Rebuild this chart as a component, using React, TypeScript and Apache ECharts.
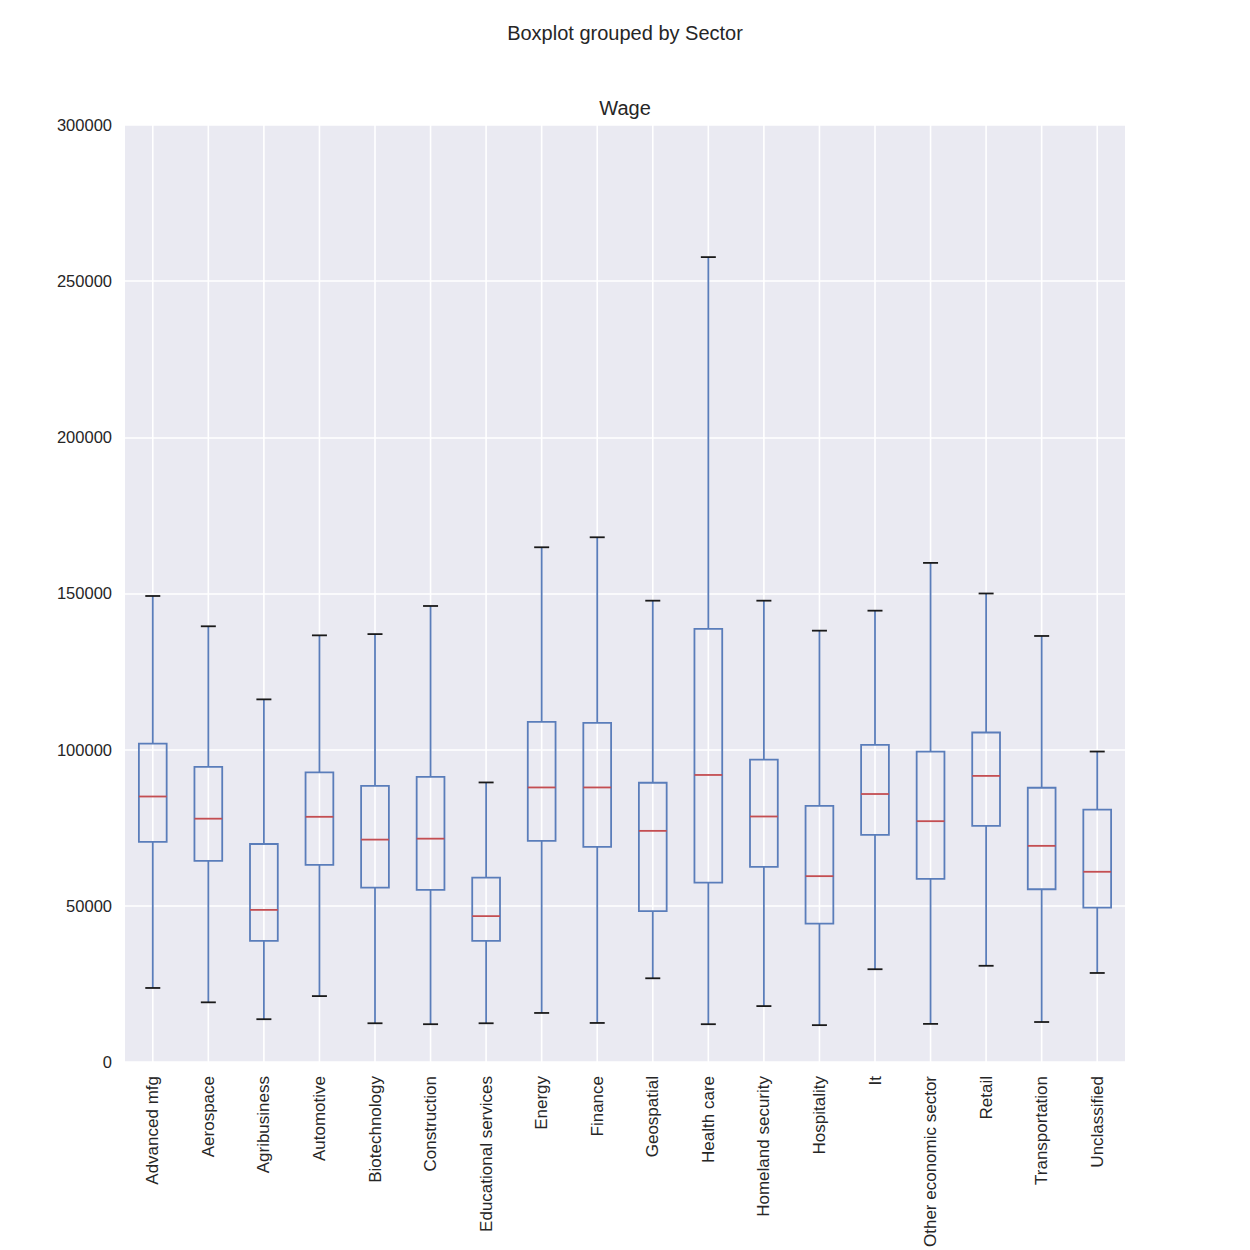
import React, { useEffect, useRef } from "react";
import * as echarts from "echarts";

// Wage distribution per sector (whisker ends, quartiles, median)
const sectors = [
  "Advanced mfg",
  "Aerospace",
  "Agribusiness",
  "Automotive",
  "Biotechnology",
  "Construction",
  "Educational services",
  "Energy",
  "Finance",
  "Geospatial",
  "Health care",
  "Homeland security",
  "Hospitality",
  "It",
  "Other economic sector",
  "Retail",
  "Transportation",
  "Unclassified",
];
const lowWhisker = [23700, 19100, 13700, 21100, 12400, 12100, 12400, 15700, 12500, 26800, 12100, 17900, 11800, 29700, 12200, 30800, 12800, 28500];
const q1 = [70500, 64400, 38800, 63100, 55800, 55100, 38800, 70800, 68900, 48300, 57400, 62500, 44300, 72700, 58600, 75600, 55300, 49400];
const median = [85000, 77900, 48700, 78500, 71200, 71500, 46700, 87900, 87900, 74000, 91900, 78600, 59500, 85800, 77100, 91600, 69200, 60900];
const q3 = [101900, 94500, 69800, 92700, 88400, 91300, 59000, 108900, 108600, 89400, 138700, 96800, 82000, 101500, 99400, 105500, 87800, 80800];
const highWhisker = [149200, 139500, 116100, 136600, 137000, 146000, 89500, 164800, 168000, 147700, 257700, 147700, 138100, 144500, 159800, 150000, 136400, 99400];
const yTicks = [0, 50000, 100000, 150000, 200000, 250000, 300000];

const BOX_BLUE = "#5A7DBA";
const MEDIAN_RED = "#C44E52";
const CAP_BLACK = "#1a1a1a";
const FONT = "Liberation Sans, Arial, sans-serif";
const TEXT = "#262626";

export default function App() {
  const ref = useRef<HTMLDivElement>(null);

  useEffect(() => {
    if (!ref.current) return;
    document.body.style.margin = "0";
    const chart = echarts.init(ref.current, undefined, { renderer: "svg" });

    const rows = sectors.map((_, i) => [i, lowWhisker[i], q1[i], median[i], q3[i], highWhisker[i]]);

    const renderItem = (params: any, api: any) => {
      const idx = api.value(0);
      const cs = params.coordSys;
      const lo = api.coord([idx, api.value(1)]);
      const b1 = api.coord([idx, api.value(2)]);
      const md = api.coord([idx, api.value(3)]);
      const b3 = api.coord([idx, api.value(4)]);
      const hi = api.coord([idx, api.value(5)]);
      const band = api.size([1, 0])[0];
      const cx = lo[0];
      const hb = band * 0.25;
      const hc = band * 0.135;
      const lw = 1.8;
      return {
        type: "group",
        children: [
          // vertical grid line through the category centre
          {
            type: "line",
            shape: { x1: cx, y1: cs.y, x2: cx, y2: cs.y + cs.height },
            style: { stroke: "#ffffff", lineWidth: 1.6 },
          },
          {
            type: "line",
            shape: { x1: cx, y1: b3[1], x2: cx, y2: hi[1] },
            style: { stroke: BOX_BLUE, lineWidth: lw },
          },
          {
            type: "line",
            shape: { x1: cx, y1: b1[1], x2: cx, y2: lo[1] },
            style: { stroke: BOX_BLUE, lineWidth: lw },
          },
          {
            type: "rect",
            shape: { x: cx - hb, y: b3[1], width: hb * 2, height: b1[1] - b3[1] },
            style: { fill: "none", stroke: BOX_BLUE, lineWidth: lw },
          },
          {
            type: "line",
            shape: { x1: cx - hb, y1: md[1], x2: cx + hb, y2: md[1] },
            style: { stroke: MEDIAN_RED, lineWidth: lw },
          },
          {
            type: "line",
            shape: { x1: cx - hc, y1: hi[1], x2: cx + hc, y2: hi[1] },
            style: { stroke: CAP_BLACK, lineWidth: lw },
          },
          {
            type: "line",
            shape: { x1: cx - hc, y1: lo[1], x2: cx + hc, y2: lo[1] },
            style: { stroke: CAP_BLACK, lineWidth: lw },
          },
        ],
      };
    };

    chart.setOption({
      animation: false,
      backgroundColor: "#ffffff",
      title: [
        {
          text: "Boxplot grouped by Sector",
          left: "center",
          top: 18,
          textStyle: { fontFamily: FONT, fontSize: 20, fontWeight: "normal", color: TEXT },
        },
        {
          text: "Wage",
          left: "center",
          top: 93,
          textStyle: { fontFamily: FONT, fontSize: 20, fontWeight: "normal", color: TEXT },
        },
      ],
      grid: {
        left: 125,
        right: 125,
        top: 125,
        bottom: 188,
        show: true,
        backgroundColor: "#EAEAF2",
        borderWidth: 0,
      },
      xAxis: {
        type: "category",
        data: sectors,
        boundaryGap: true,
        axisLine: { show: false },
        axisTick: { show: false },
        splitLine: { show: false },
        axisLabel: {
          rotate: 90,
          interval: 0,
          margin: 14,
          fontFamily: FONT,
          fontSize: 17,
          color: TEXT,
        },
      },
      yAxis: {
        type: "value",
        min: 0,
        max: 300000,
        interval: 50000,
        axisLine: { show: false },
        axisTick: { show: false },
        splitLine: { show: true, lineStyle: { color: "#ffffff", width: 1.6 } },
        axisLabel: {
          margin: 13,
          fontFamily: FONT,
          fontSize: 16.5,
          color: TEXT,
          formatter: (v: number) => (yTicks.includes(v) ? String(v) : ""),
        },
      },
      series: [
        {
          type: "custom",
          renderItem,
          data: rows,
          encode: { x: 0, y: [1, 2, 3, 4, 5] },
          clip: false,
        },
      ],
    });

    return () => chart.dispose();
  }, []);

  return <div ref={ref} style={{ width: 1250, height: 1250 }} />;
}
